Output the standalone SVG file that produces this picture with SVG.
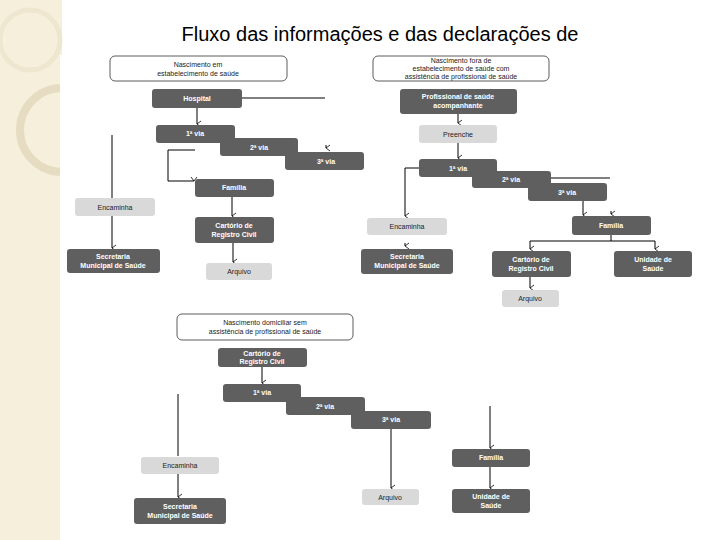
<svg xmlns="http://www.w3.org/2000/svg" width="720" height="540" viewBox="0 0 720 540">
<defs>
<marker id="a" markerWidth="8" markerHeight="6" refX="4" refY="5" orient="auto-start-reverse" markerUnits="userSpaceOnUse" viewBox="0 0 8 6">
<path d="M1,1 L4,5 L7,1" fill="none" stroke="#000" stroke-width="0.8"/>
</marker>
<style>
.d{fill:#5f5f5f}
.l{fill:#d9d9d9}
.h{fill:#fff;stroke:#333;stroke-width:0.8}
.t{font-family:"Liberation Sans",Arial,sans-serif;font-size:7px;text-anchor:middle;fill:#fff;font-weight:bold}
.k{font-family:"Liberation Sans",Arial,sans-serif;font-size:7px;text-anchor:middle;fill:#222}
.c line,.c path{stroke:#000;stroke-width:1;fill:none}
</style>
</defs>
<rect width="720" height="540" fill="#fff"/>
<rect width="62" height="540" fill="#f6efdc"/>
<circle cx="62" cy="130" r="42" fill="none" stroke="#e6dcc2" stroke-width="8"/>
<circle cx="30" cy="40" r="30" fill="none" stroke="#efe6d0" stroke-width="5"/>
<text x="380" y="41" font-family="Liberation Sans,Arial,sans-serif" font-size="20" text-anchor="middle" fill="#000">Fluxo das informações e das declarações de</text>
<rect x="60" y="55" width="660" height="485" fill="#fff"/>

<g class="c">
<line x1="242" y1="98" x2="325" y2="98"/>
<line x1="197" y1="108" x2="197" y2="124" marker-end="url(#a)"/>
<line x1="326" y1="145" x2="326" y2="148" marker-end="url(#a)"/>
<path d="M195,150 H168 V181 H194" marker-end="url(#a)"/>
<line x1="232" y1="197" x2="232" y2="216" marker-end="url(#a)"/>
<line x1="233" y1="243" x2="233" y2="262" marker-end="url(#a)"/>
<line x1="112" y1="135" x2="112" y2="248" marker-end="url(#a)"/>
<line x1="458" y1="114" x2="458" y2="123" marker-end="url(#a)"/>
<line x1="458" y1="143" x2="458" y2="158" marker-end="url(#a)"/>
<path d="M419,168 H405 V216" marker-end="url(#a)"/>
<line x1="405" y1="243" x2="405" y2="246" marker-end="url(#a)"/>
<line x1="551" y1="178" x2="610" y2="178"/>
<line x1="583" y1="201" x2="583" y2="215" marker-end="url(#a)"/>
<line x1="611" y1="211" x2="611" y2="214" marker-end="url(#a)"/>
<path d="M611,235 V241"/>
<path d="M530,249 V241 H655 V249" marker-start="url(#a)" marker-end="url(#a)"/>
<line x1="530" y1="277" x2="530" y2="288" marker-end="url(#a)"/>
<line x1="262" y1="367" x2="262" y2="383" marker-end="url(#a)"/>
<line x1="391" y1="429" x2="391" y2="488" marker-end="url(#a)"/>
<line x1="178" y1="394" x2="178" y2="456"/>
<line x1="178" y1="474" x2="178" y2="497" marker-end="url(#a)"/>
<line x1="490" y1="406" x2="490" y2="448" marker-end="url(#a)"/>
<line x1="490" y1="467" x2="490" y2="488" marker-end="url(#a)"/>
</g>

<g id="n1"><rect class="h" x="110" y="56" width="177" height="25" rx="5"/><text class="k" x="198" y="67">Nascimento em</text><text class="k" x="198" y="76">estabelecimento de saúde</text></g>
<g id="n2"><rect class="d" x="152" y="89" width="90" height="19" rx="3"/><text class="t" x="197" y="101">Hospital</text></g>
<g id="n3"><rect class="d" x="156" y="125" width="79" height="18" rx="3"/><text class="t" x="195" y="136">1ª via</text></g>
<g id="n4"><rect class="d" x="220" y="138" width="78" height="18" rx="3"/><text class="t" x="259" y="150">2ª via</text></g>
<g id="n5"><rect class="d" x="285" y="152" width="79" height="18" rx="3"/><text class="t" x="326" y="164">3ª via</text></g>
<g id="n6"><rect class="d" x="195" y="179" width="79" height="18" rx="3"/><text class="t" x="234" y="190">Família</text></g>
<g id="n7"><rect class="d" x="195" y="217" width="79" height="26" rx="3"/><text class="t" x="234" y="228">Cartório de</text><text class="t" x="234" y="237">Registro Civil</text></g>
<g id="n8"><rect class="l" x="206" y="263" width="66" height="17" rx="3"/><text class="k" x="239" y="274">Arquivo</text></g>
<g id="n9"><rect class="l" x="75" y="198" width="80" height="18" rx="3"/><text class="k" x="115" y="210">Encaminha</text></g>
<g id="n10"><rect class="d" x="67" y="249" width="93" height="24" rx="3"/><text class="t" x="113" y="259">Secretaria</text><text class="t" x="113" y="268">Municipal de Saúde</text></g>

<g id="m1"><rect class="h" x="373" y="56" width="176" height="25" rx="5"/><text class="k" x="461" y="63">Nascimento fora de</text><text class="k" x="461" y="71">estabelecimento de saúde com</text><text class="k" x="461" y="79">assistência de profissional de saúde</text></g>
<g id="m2"><rect class="d" x="400" y="89" width="117" height="25" rx="3"/><text class="t" x="458" y="99">Profissional de saúde</text><text class="t" x="458" y="108">acompanhante</text></g>
<g id="m3"><rect class="l" x="419" y="125" width="78" height="18" rx="3"/><text class="k" x="458" y="137">Preenche</text></g>
<g id="m4"><rect class="d" x="419" y="159" width="78" height="18" rx="3"/><text class="t" x="458" y="171">1ª via</text></g>
<g id="m5"><rect class="d" x="472" y="171" width="79" height="17" rx="3"/><text class="t" x="511" y="182">2ª via</text></g>
<g id="m6"><rect class="d" x="528" y="183" width="79" height="18" rx="3"/><text class="t" x="567" y="195">3ª via</text></g>
<g id="m7"><rect class="l" x="367" y="218" width="80" height="17" rx="3"/><text class="k" x="407" y="229">Encaminha</text></g>
<g id="m8"><rect class="d" x="361" y="249" width="92" height="25" rx="3"/><text class="t" x="407" y="259">Secretaria</text><text class="t" x="407" y="268">Municipal de Saúde</text></g>
<g id="m9"><rect class="d" x="572" y="216" width="79" height="19" rx="3"/><text class="t" x="611" y="228">Família</text></g>
<g id="m10"><rect class="d" x="492" y="251" width="79" height="26" rx="3"/><text class="t" x="531" y="262">Cartório de</text><text class="t" x="531" y="271">Registro Civil</text></g>
<g id="m11"><rect class="d" x="614" y="251" width="78" height="26" rx="3"/><text class="t" x="653" y="262">Unidade de</text><text class="t" x="653" y="271">Saúde</text></g>
<g id="m12"><rect class="l" x="502" y="290" width="57" height="17" rx="3"/><text class="k" x="530" y="301">Arquivo</text></g>

<g id="p1"><rect class="h" x="177" y="314" width="176" height="26" rx="5"/><text class="k" x="265" y="325">Nascimento domiciliar sem</text><text class="k" x="265" y="334">assistência de profissional de saúde</text></g>
<g id="p2"><rect class="d" x="218" y="348" width="89" height="19" rx="3"/><text class="t" x="262" y="356">Cartório de</text><text class="t" x="262" y="364">Registro Civil</text></g>
<g id="p3"><rect class="d" x="223" y="384" width="78" height="18" rx="3"/><text class="t" x="262" y="395">1ª via</text></g>
<g id="p4"><rect class="d" x="286" y="397" width="79" height="18" rx="3"/><text class="t" x="325" y="409">2ª via</text></g>
<g id="p5"><rect class="d" x="351" y="411" width="80" height="18" rx="3"/><text class="t" x="391" y="422">3ª via</text></g>
<g id="p6"><rect class="l" x="362" y="489" width="57" height="16" rx="3"/><text class="k" x="390" y="500">Arquivo</text></g>
<g id="p7"><rect class="l" x="141" y="457" width="78" height="17" rx="3"/><text class="k" x="180" y="468">Encaminha</text></g>
<g id="p8"><rect class="d" x="134" y="498" width="92" height="26" rx="3"/><text class="t" x="180" y="509">Secretaria</text><text class="t" x="180" y="518">Municipal de Saúde</text></g>
<g id="p9"><rect class="d" x="452" y="449" width="78" height="18" rx="3"/><text class="t" x="491" y="460">Família</text></g>
<g id="p10"><rect class="d" x="452" y="489" width="78" height="24" rx="3"/><text class="t" x="491" y="499">Unidade de</text><text class="t" x="491" y="508">Saúde</text></g>
</svg>
